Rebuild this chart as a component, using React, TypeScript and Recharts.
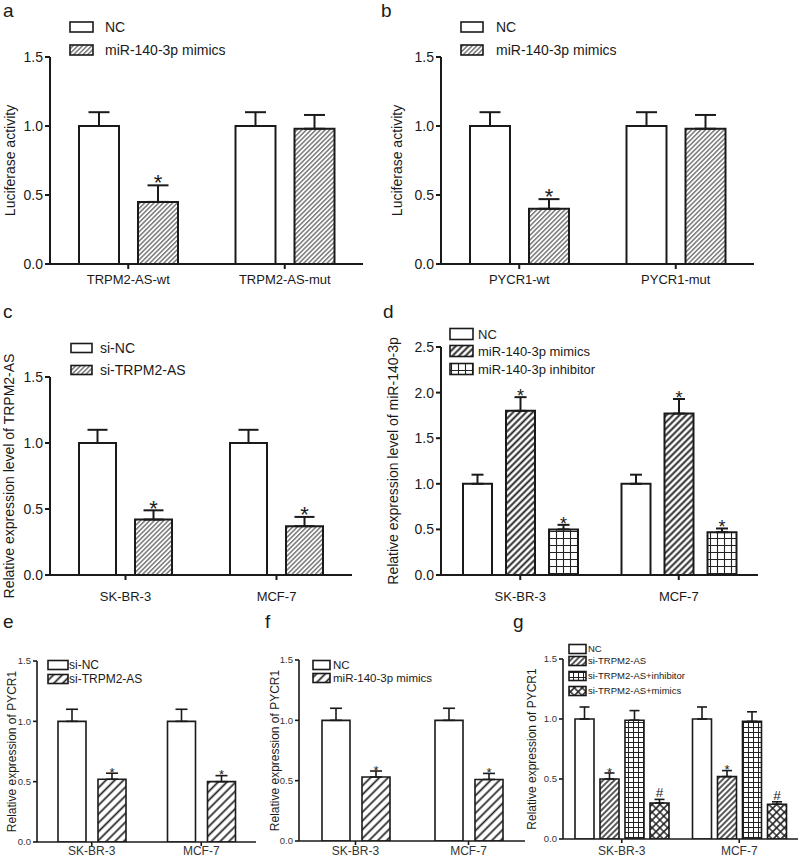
import { Bar, BarChart, ErrorBar, LabelList, XAxis, YAxis } from "recharts";

const FONT = "Arial, 'Liberation Sans', Helvetica, sans-serif";
const INK = "#1a1a1a";

// a - luciferase, TRPM2-AS
const aCats = ["TRPM2-AS-wt", "TRPM2-AS-mut"];
const aNC = [1.0, 1.0];
const aNCErr = [0.1, 0.1];
const aMimics = [0.45, 0.98];
const aMimicsErr = [0.12, 0.1];
const aMarks = ["*", ""];

// b - luciferase, PYCR1
const bCats = ["PYCR1-wt", "PYCR1-mut"];
const bNC = [1.0, 1.0];
const bNCErr = [0.1, 0.1];
const bMimics = [0.4, 0.98];
const bMimicsErr = [0.07, 0.1];
const bMarks = ["*", ""];

const cellCats = ["SK-BR-3", "MCF-7"];

// c - TRPM2-AS level
const cSiNC = [1.0, 1.0];
const cSiNCErr = [0.1, 0.1];
const cSiTRPM2 = [0.42, 0.37];
const cSiTRPM2Err = [0.07, 0.07];
const cMarks = ["*", "*"];

// d - miR-140-3p level
const dNC = [1.0, 1.0];
const dNCErr = [0.1, 0.1];
const dMimics = [1.8, 1.77];
const dMimicsErr = [0.15, 0.16];
const dInhibitor = [0.5, 0.47];
const dInhibitorErr = [0.05, 0.04];
const dMarks = ["*", "*"];

// e - PYCR1 after si-TRPM2-AS
const eSiNC = [1.0, 1.0];
const eSiNCErr = [0.1, 0.1];
const eSiTRPM2 = [0.52, 0.5];
const eSiTRPM2Err = [0.05, 0.05];
const eMarks = ["*", "*"];

// f - PYCR1 after mimics
const fNC = [1.0, 1.0];
const fNCErr = [0.1, 0.1];
const fMimics = [0.53, 0.51];
const fMimicsErr = [0.05, 0.05];
const fMarks = ["*", "*"];

// g - rescue
const gNC = [1.0, 1.0];
const gNCErr = [0.1, 0.1];
const gSiTRPM2 = [0.5, 0.52];
const gSiTRPM2Err = [0.05, 0.05];
const gSiMarks = ["*", "*"];
const gInhibitor = [0.99, 0.98];
const gInhibitorErr = [0.08, 0.08];
const gMimics = [0.3, 0.29];
const gMimicsErr = [0.03, 0.02];
const gMimicsMarks = ["#", "#"];

const ticks15 = [0, 0.5, 1.0, 1.5];
const ticks25 = [0, 0.5, 1.0, 1.5, 2.0, 2.5];
const none = ["", ""];

type Series = { name: string; values: number[]; errs: number[]; marks: string[]; fill: string };

type Spec = {
  letter: string;
  letterAt: [number, number];
  box: [number, number, number, number]; // left, top, width, height
  plot: [number, number, number, number]; // left, top, right, bottom
  cats: string[];
  series: Series[];
  yMax: number;
  yTicks: number[];
  yLabel: string;
  yLabelX: number;
  yLabelSize: number;
  xFont: number;
  yFont: number;
  tickInk: string;
  xTickLen: number;
  xTickMargin: number;
  yTickLen: number;
  barSize: number;
  barGap: number;
  cap: number;
  line: number;
  markSize: number;
  markGap: number;
  legend: { x: number; ys: number[]; w: number; h: number; textX: number; size: number };
};

function Patterns() {
  return (
    <svg width={0} height={0} style={{ position: "absolute" }}>
      <defs>
        <pattern id="hatchFine" width={3.3} height={3.3} patternUnits="userSpaceOnUse" patternTransform="rotate(45)">
          <rect width={3.3} height={3.3} fill="#fff" />
          <line x1={1.6} y1={0} x2={1.6} y2={3.3} stroke="#333" strokeWidth={1} />
        </pattern>
        <pattern id="hatchBold" width={4.6} height={4.6} patternUnits="userSpaceOnUse" patternTransform="rotate(45)">
          <rect width={4.6} height={4.6} fill="#fff" />
          <line x1={2.3} y1={0} x2={2.3} y2={4.6} stroke="#222" strokeWidth={1.9} />
        </pattern>
        <pattern id="hatchWide" width={6.2} height={6.2} patternUnits="userSpaceOnUse" patternTransform="rotate(45)">
          <rect width={6.2} height={6.2} fill="#fff" />
          <line x1={3.1} y1={0} x2={3.1} y2={6.2} stroke="#222" strokeWidth={1.7} />
        </pattern>
        <pattern id="hatchG" width={4} height={4} patternUnits="userSpaceOnUse" patternTransform="rotate(45)">
          <rect width={4} height={4} fill="#fff" />
          <line x1={2} y1={0} x2={2} y2={4} stroke="#222" strokeWidth={1.5} />
        </pattern>
        <pattern id="gridD" width={7} height={7} patternUnits="userSpaceOnUse">
          <rect width={7} height={7} fill="#fff" />
          <path d="M0 3.5H7M3.5 0V7" stroke="#222" strokeWidth={1.1} />
        </pattern>
        <pattern id="gridG" width={5} height={5} patternUnits="userSpaceOnUse">
          <rect width={5} height={5} fill="#fff" />
          <path d="M0 2.5H5M2.5 0V5" stroke="#222" strokeWidth={1} />
        </pattern>
        <pattern id="crossG" width={5.5} height={5.5} patternUnits="userSpaceOnUse" patternTransform="rotate(45)">
          <rect width={5.5} height={5.5} fill="#fff" />
          <path d="M0 2.75H5.5M2.75 0V5.5" stroke="#222" strokeWidth={1.6} />
        </pattern>
      </defs>
    </svg>
  );
}

const markContent = (s: Series, size: number, gap: number) => (props: any) => {
  const i = props.index;
  const mark = s.marks[i];
  if (!mark) return null;
  const x = Number(props.x);
  const y = Number(props.y);
  const w = Number(props.width);
  const h = Number(props.height);
  const capY = y - (s.errs[i] * h) / s.values[i];
  const fs = mark === "#" ? size * 1.05 : size;
  const baseY = mark === "*" ? capY - gap + 0.43 * fs : capY - gap;
  return (
    <text x={x + w / 2} y={baseY} textAnchor="middle" fontSize={fs} fontFamily={FONT} fill={INK}>
      {mark}
    </text>
  );
};

function Panel({ p }: { p: Spec }) {
  const [left, top, width, height] = p.box;
  const [pl, pt, pr, pb] = p.plot;
  const data = p.cats.map((cat, i) => {
    const row: Record<string, any> = { cat };
    p.series.forEach((s, j) => {
      row["v" + j] = s.values[i];
      row["e" + j] = [0, s.errs[i]];
    });
    return row;
  });
  const lg = p.legend;
  return (
    <div style={{ position: "absolute", left, top, width, height }}>
      <BarChart
        width={width}
        height={height}
        data={data}
        margin={{ top: pt - top, right: left + width - pr, bottom: 0, left: 0 }}
        barSize={p.barSize}
        barGap={p.barGap}
      >
        <XAxis
          dataKey="cat"
          interval={0}
          height={top + height - pb}
          tickSize={p.xTickLen}
          tickMargin={p.xTickMargin}
          axisLine={{ stroke: INK, strokeWidth: p.line }}
          tickLine={{ stroke: INK, strokeWidth: p.line }}
          tick={{ fill: p.tickInk, fontSize: p.xFont, fontFamily: FONT }}
        />
        <YAxis
          type="number"
          domain={[0, p.yMax]}
          allowDataOverflow
          ticks={p.yTicks}
          interval={0}
          width={pl - left}
          tickSize={p.yTickLen}
          tickMargin={2}
          tickFormatter={(v: number) => v.toFixed(1)}
          axisLine={{ stroke: INK, strokeWidth: p.line }}
          tickLine={{ stroke: INK, strokeWidth: p.line }}
          tick={{ fill: p.tickInk, fontSize: p.yFont, fontFamily: FONT }}
          label={{
            value: p.yLabel,
            angle: -90,
            position: "insideLeft",
            offset: p.yLabelX - left,
            style: { textAnchor: "middle", fontSize: p.yLabelSize, fontFamily: FONT, fill: INK },
          }}
        />
        {p.series.map((s, j) => (
          <Bar
            key={s.name}
            dataKey={"v" + j}
            name={s.name}
            fill={s.fill}
            stroke={INK}
            strokeWidth={p.line}
            isAnimationActive={false}
          >
            <ErrorBar dataKey={"e" + j} direction="y" width={p.cap} stroke={INK} strokeWidth={p.line} />
            <LabelList dataKey={"v" + j} content={markContent(s, p.markSize, p.markGap)} />
          </Bar>
        ))}
      </BarChart>
      <svg
        width={width}
        height={height}
        style={{ position: "absolute", left: 0, top: 0, overflow: "visible", pointerEvents: "none" }}
      >
        <text
          x={p.letterAt[0] - left}
          y={p.letterAt[1] - top}
          fontSize={19}
          fontFamily={FONT}
          fill={INK}
        >
          {p.letter}
        </text>
        {p.series.map((s, j) => (
          <g key={s.name}>
            <rect
              x={lg.x - left}
              y={lg.ys[j] - top - lg.h / 2}
              width={lg.w}
              height={lg.h}
              fill={s.fill}
              stroke={INK}
              strokeWidth={1.6}
            />
            <text
              x={lg.textX - left}
              y={lg.ys[j] - top}
              dy="0.36em"
              fontSize={lg.size}
              fontFamily={FONT}
              fill={INK}
            >
              {s.name}
            </text>
          </g>
        ))}
      </svg>
    </div>
  );
}

const big = {
  xTickLen: 5,
  yTickLen: 5,
  line: 2,
  tickInk: INK,
  xFont: 13,
  yFont: 14,
  yLabelSize: 14,
};

const small = {
  xTickLen: 4,
  yTickLen: 4,
  line: 1.6,
  tickInk: "#333",
  xFont: 12,
  yFont: 9.5,
  yLabelSize: 12,
  barSize: 28,
  barGap: 12,
  cap: 6,
  markSize: 13,
  markGap: 2,
};

const panels: Spec[] = [
  {
    ...big,
    letter: "a",
    letterAt: [3, 17],
    box: [0, 0, 385, 300],
    plot: [50, 57, 363, 264],
    cats: aCats,
    series: [
      { name: "NC", values: aNC, errs: aNCErr, marks: none, fill: "#fff" },
      { name: "miR-140-3p mimics", values: aMimics, errs: aMimicsErr, marks: aMarks, fill: "url(#hatchFine)" },
    ],
    yMax: 1.5,
    yTicks: ticks15,
    yLabel: "Luciferase activity",
    yLabelX: 10,
    xTickMargin: 6,
    barSize: 40,
    barGap: 19,
    cap: 10.5,
    markSize: 22,
    markGap: 5,
    legend: { x: 70, ys: [27, 50], w: 23, h: 10, textX: 105, size: 14 },
  },
  {
    ...big,
    letter: "b",
    letterAt: [381, 17],
    box: [385, 0, 400, 300],
    plot: [441, 57, 754, 264],
    cats: bCats,
    series: [
      { name: "NC", values: bNC, errs: bNCErr, marks: none, fill: "#fff" },
      { name: "miR-140-3p mimics", values: bMimics, errs: bMimicsErr, marks: bMarks, fill: "url(#hatchFine)" },
    ],
    yMax: 1.5,
    yTicks: ticks15,
    yLabel: "Luciferase activity",
    yLabelX: 397,
    xTickMargin: 6,
    barSize: 40,
    barGap: 19,
    cap: 10.5,
    markSize: 22,
    markGap: 5,
    legend: { x: 461, ys: [27, 50], w: 22, h: 10, textX: 496, size: 14 },
  },
  {
    ...big,
    letter: "c",
    letterAt: [3, 318],
    box: [0, 290, 385, 315],
    plot: [50, 377, 352, 575],
    cats: cellCats,
    series: [
      { name: "si-NC", values: cSiNC, errs: cSiNCErr, marks: none, fill: "#fff" },
      { name: "si-TRPM2-AS", values: cSiTRPM2, errs: cSiTRPM2Err, marks: cMarks, fill: "url(#hatchFine)" },
    ],
    yMax: 1.5,
    yTicks: ticks15,
    yLabel: "Relative expression level of TRPM2-AS",
    yLabelX: 9,
    xTickMargin: 12,
    barSize: 37,
    barGap: 19,
    cap: 10,
    markSize: 22,
    markGap: 4,
    legend: { x: 71, ys: [348, 370], w: 21, h: 9, textX: 100, size: 14 },
  },
  {
    ...big,
    letter: "d",
    letterAt: [383, 318],
    box: [385, 290, 400, 315],
    plot: [441, 347, 758, 575],
    cats: cellCats,
    series: [
      { name: "NC", values: dNC, errs: dNCErr, marks: none, fill: "#fff" },
      { name: "miR-140-3p mimics", values: dMimics, errs: dMimicsErr, marks: dMarks, fill: "url(#hatchBold)" },
      { name: "miR-140-3p inhibitor", values: dInhibitor, errs: dInhibitorErr, marks: dMarks, fill: "url(#gridD)" },
    ],
    yMax: 2.5,
    yTicks: ticks25,
    yLabel: "Relative expression level of miR-140-3p",
    yLabelX: 393,
    xTickMargin: 12,
    barSize: 29,
    barGap: 14,
    cap: 6,
    markSize: 18,
    markGap: 3,
    legend: { x: 450, ys: [334, 351, 369], w: 23, h: 11, textX: 478, size: 13 },
  },
  {
    ...small,
    letter: "e",
    letterAt: [3, 628],
    box: [0, 610, 262, 247],
    plot: [37, 661, 256, 842],
    cats: cellCats,
    series: [
      { name: "si-NC", values: eSiNC, errs: eSiNCErr, marks: none, fill: "#fff" },
      { name: "si-TRPM2-AS", values: eSiTRPM2, errs: eSiTRPM2Err, marks: eMarks, fill: "url(#hatchWide)" },
    ],
    yMax: 1.5,
    yTicks: ticks15,
    yLabel: "Relative expression of PYCR1",
    yLabelX: 12,
    xTickMargin: 0,
    legend: { x: 48, ys: [665, 679], w: 20, h: 9, textX: 69, size: 12 },
  },
  {
    ...small,
    letter: "f",
    letterAt: [265, 628],
    box: [262, 610, 264, 247],
    plot: [299, 660, 525, 841],
    cats: cellCats,
    series: [
      { name: "NC", values: fNC, errs: fNCErr, marks: none, fill: "#fff" },
      { name: "miR-140-3p mimics", values: fMimics, errs: fMimicsErr, marks: fMarks, fill: "url(#hatchWide)" },
    ],
    yMax: 1.5,
    yTicks: ticks15,
    yLabel: "Relative expression of PYCR1",
    yLabelX: 275,
    xTickMargin: 1,
    legend: { x: 313, ys: [665, 678], w: 17, h: 9, textX: 333, size: 11.5 },
  },
  {
    ...small,
    letter: "g",
    letterAt: [513, 628],
    box: [516, 610, 284, 247],
    plot: [563, 659, 798, 839],
    cats: cellCats,
    series: [
      { name: "NC", values: gNC, errs: gNCErr, marks: none, fill: "#fff" },
      { name: "si-TRPM2-AS", values: gSiTRPM2, errs: gSiTRPM2Err, marks: gSiMarks, fill: "url(#hatchG)" },
      { name: "si-TRPM2-AS+inhibitor", values: gInhibitor, errs: gInhibitorErr, marks: none, fill: "url(#gridG)" },
      { name: "si-TRPM2-AS+mimics", values: gMimics, errs: gMimicsErr, marks: gMimicsMarks, fill: "url(#crossG)" },
    ],
    yMax: 1.5,
    yTicks: ticks15,
    yLabel: "Relative expression of PYCR1",
    yLabelX: 532,
    yLabelSize: 12,
    xTickMargin: 3,
    barSize: 19,
    barGap: 6,
    cap: 5,
    legend: { x: 569, ys: [649, 661, 676, 691], w: 17, h: 9, textX: 588, size: 9.5 },
  },
];

export default function App() {
  return (
    <div
      style={{
        position: "absolute",
        left: 0,
        top: 0,
        width: 800,
        height: 857,
        background: "#fff",
        overflow: "hidden",
      }}
    >
      <Patterns />
      {panels.map((p) => (
        <Panel key={p.letter} p={p} />
      ))}
    </div>
  );
}
